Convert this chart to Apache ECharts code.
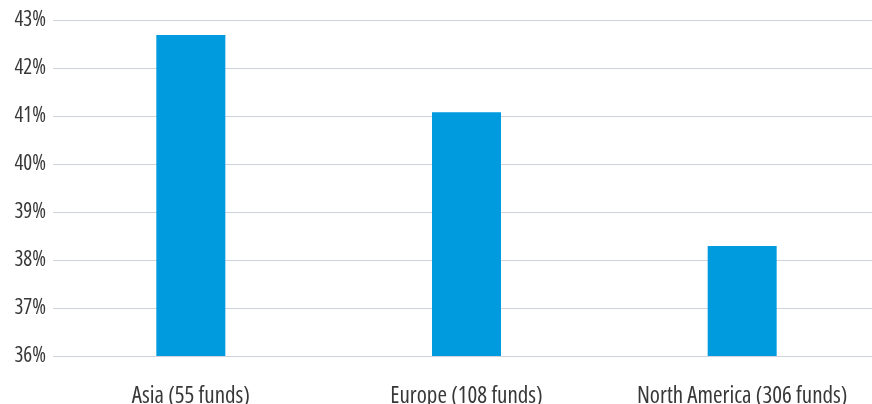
<!DOCTYPE html>
<html>
<head>
<meta charset="utf-8">
<script src="https://cdn.jsdelivr.net/npm/echarts@6/dist/echarts.min.js"></script>
<style>
  html, body { margin: 0; padding: 0; background: #fff; }
  #chart { width: 872px; height: 404px; }
</style>
</head>
<body>
<div id="chart"></div>
<script>
const categories = ['Asia (55 funds)', 'Europe (108 funds)', 'North America (306 funds)'];
const shareValues = [42.69, 41.08, 38.29];
const yMin = 36;
const yMax = 43;

// the original uses a narrow DIN-like face; find an installed family with a condensed width
function pickFont(candidates) {
  const ctx = document.createElement('canvas').getContext('2d');
  const sample = 'North America (306 funds) 43%';
  for (const name of candidates) {
    ctx.font = '20px "' + name + '"';
    const normal = ctx.measureText(sample).width;
    ctx.font = 'condensed 20px "' + name + '"';
    const narrow = ctx.measureText(sample).width;
    if (narrow < normal * 0.95) return { family: '"' + name + '", sans-serif', stretch: 'condensed' };
  }
  return { family: 'sans-serif', stretch: 'normal' };
}
const font = pickFont(['Open Sans', 'Noto Sans', 'DejaVu Sans', 'Roboto', 'Liberation Sans']);

const myChart = echarts.init(document.getElementById('chart'));

const option = {
  animation: false,
  grid: {
    left: 53,
    top: 20,
    right: -8,
    bottom: 48,
    containLabel: false,
    outerBoundsMode: 'none',
  },
  xAxis: {
    type: 'category',
    data: categories,
    axisLine: { show: false },
    axisTick: { show: false },
    axisLabel: {
      interval: 0,
      margin: 29,
      color: '#383838',
      fontSize: 23,
      fontStyle: font.stretch,
      fontFamily: font.family,
    },
  },
  yAxis: {
    type: 'value',
    min: yMin,
    max: yMax,
    interval: 1,
    axisLine: { show: false },
    axisTick: { show: false },
    splitLine: { lineStyle: { color: '#cfd4dc', width: 1 } },
    axisLabel: {
      margin: 7,
      padding: [11, 0, 0, 0],
      color: '#383838',
      fontSize: 21,
      fontStyle: font.stretch,
      fontFamily: font.family,
      formatter: function(v) {
        return v + '%';
      },
    },
  },
  series: [
    {
      type: 'bar',
      data: shareValues,
      barWidth: 69,
      itemStyle: { color: '#009ade' },
    },
  ],
};
myChart.setOption(option);
</script>
</body>
</html>
